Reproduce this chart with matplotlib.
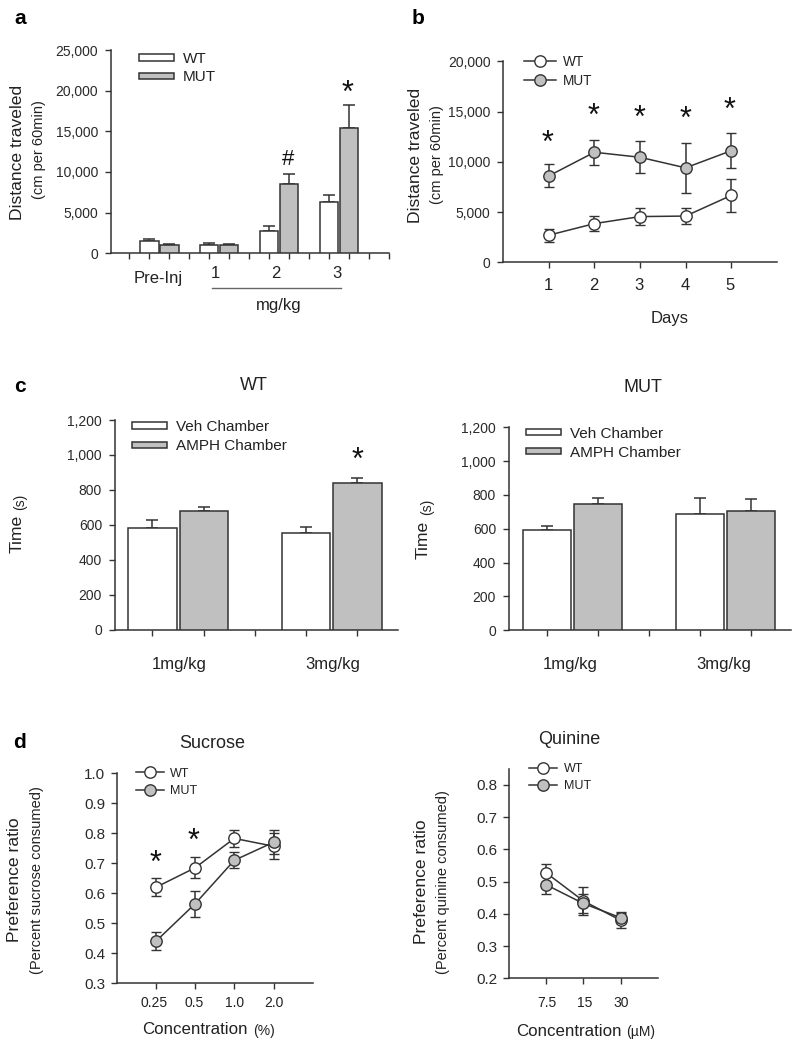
import matplotlib
matplotlib.use("Agg")  # No GUI backend
import matplotlib.pyplot as plt
from matplotlib.lines import Line2D
from matplotlib.patches import Patch

plt.rcParams['font.family'] = ['Liberation Sans', 'DejaVu Sans']

W, H = 800, 1049
DARK = '#333333'
GREY = '#c0c0c0'

# panel a
a_ticks = list(range(14))
a_wt_x = [1, 4, 7, 10]
a_mut_x = [2, 5, 8, 11]
a_wt = [1500, 1000, 2700, 6300]
a_wt_err = [300, 250, 600, 900]
a_mut = [1000, 1050, 8500, 15400]
a_mut_err = [150, 100, 1200, 2800]
a_yticks = [0, 5000, 10000, 15000, 20000, 25000]

# panel b
days = [1, 2, 3, 4, 5]
b_wt = [2700, 3850, 4550, 4600, 6650]
b_wt_err = [640, 730, 830, 780, 1650]
b_mut = [8600, 10950, 10450, 9400, 11100]
b_mut_err = [1150, 1230, 1570, 2500, 1730]
b_yticks = [0, 5000, 10000, 15000, 20000]

# panel c
c_ticks = [1, 2, 3, 4, 5]
c_veh_x = [1, 4]
c_amph_x = [2, 5]
c_yticks = [0, 200, 400, 600, 800, 1000, 1200]
cw_veh = [580, 555]
cw_veh_err = [50, 35]
cw_amph = [680, 840]
cw_amph_err = [25, 30]
cm_veh = [590, 690]
cm_veh_err = [25, 90]
cm_amph = [745, 705]
cm_amph_err = [35, 70]

# panel d
suc_labels = ['0.25', '0.5', '1.0', '2.0']
suc_wt = [0.62, 0.685, 0.783, 0.757]
suc_wt_err = [0.03, 0.035, 0.028, 0.044]
suc_mut = [0.44, 0.565, 0.71, 0.77]
suc_mut_err = [0.03, 0.043, 0.027, 0.04]
suc_yticks = [0.3, 0.4, 0.5, 0.6, 0.7, 0.8, 0.9, 1.0]

qui_labels = ['7.5', '15', '30']
qui_wt = [0.527, 0.44, 0.38]
qui_wt_err = [0.027, 0.044, 0.025]
qui_mut = [0.49, 0.432, 0.388]
qui_mut_err = [0.028, 0.03, 0.015]
qui_yticks = [0.2, 0.3, 0.4, 0.5, 0.6, 0.7, 0.8]

fig = plt.figure(figsize=(W / 100, H / 100), dpi=100)


def make_axes(left, right, top, bottom, xlim, ylim, yticks, yfmt, xticks, size=10, pad=5):
    ax = fig.add_axes([left / W, 1 - bottom / H, (right - left) / W, (bottom - top) / H])
    ax.patch.set_alpha(0)
    ax.set_xlim(xlim)
    ax.set_ylim(ylim)
    ax.set_yticks(yticks)
    ax.set_yticklabels([yfmt.format(v) for v in yticks])
    ax.set_xticks(xticks)
    ax.set_xticklabels([])
    for s in ['top', 'right']:
        ax.spines[s].set_visible(False)
    for s in ['left', 'bottom']:
        ax.spines[s].set_linewidth(1.1)
        ax.spines[s].set_color(DARK)
    ax.tick_params(length=4.3, width=1.0, color=DARK, labelcolor='#2a2a2a', labelsize=size, pad=pad)
    return ax


def txt(x, y, s, size=12.5, rot=0, **kw):
    kw.setdefault('color', '#222222')
    fig.text(x / W, 1 - y / H, s, fontsize=size, rotation=rot, ha='center', va='center', **kw)


def star(x, y, s='*', size=22):
    # the asterisk glyph sits high in the line, so push it down
    fig.text(x / W, 1 - (y + size * 0.17) / H, s, fontsize=size, ha='center', va='center', color='#111111')


def bars(ax, x, vals, errs, width, color, cap=4.6):
    ax.bar(x, vals, width=width, color=color, edgecolor=DARK, linewidth=1.1, zorder=3)
    ax.errorbar(x, vals, yerr=[[0] * len(errs), errs], fmt='none', ecolor=DARK,
                elinewidth=1.1, capsize=cap, capthick=1.1, zorder=2)


def lines(ax, x, vals, errs, color, cap=3.7):
    ax.errorbar(x, vals, yerr=errs, fmt='-o', color=DARK, mfc=color, mec=DARK, mew=1.0, ms=8.2,
                lw=1.1, elinewidth=1.1, capsize=cap, capthick=1.1, clip_on=False)


def legend(ax, handles, labels, x, y, pitch, hlen, tx, fs, hh=0.7, top=0.45):
    fs_px = fs * 100 / 72
    ax.legend(handles, labels, loc='upper left', bbox_to_anchor=(x / W, 1 - (y - top * fs_px) / H),
              bbox_transform=fig.transFigure, frameon=False, fontsize=fs, borderpad=0, borderaxespad=0,
              handlelength=hlen / fs_px, handletextpad=(tx - x - hlen) / fs_px, handleheight=hh,
              labelspacing=(pitch - 0.96 * fs_px) / fs_px, labelcolor='#222222')


def bar_handles():
    return [Patch(fc='white', ec=DARK, lw=1.1), Patch(fc=GREY, ec=DARK, lw=1.1)]


def line_handles():
    return [Line2D([], [], color=DARK, lw=1.1, marker='o', mfc=c, mec=DARK, ms=8.2, mew=1.0) for c in ['white', GREY]]


# a
ax = make_axes(111, 389, 50, 253.3, (-0.92, 13), (0, 25000), a_yticks, '{:,}', a_ticks)
bars(ax, a_wt_x, a_wt, a_wt_err, 0.92, 'white')
bars(ax, a_mut_x, a_mut, a_mut_err, 0.92, GREY)
legend(ax, bar_handles(), ['WT', 'MUT'], 139, 57, 19, 35, 183, 11, hh=0.25, top=0.32)
txt(20, 19, 'a', 15, fontweight='bold', color='black')
txt(18, 152, 'Distance traveled', 12.6, 90)
txt(39, 150, '(cm per 60min)', 10.5, 90)
txt(158, 279, 'Pre-Inj', 12)
txt(215, 273, '1', 12)
txt(276, 273, '2', 12)
txt(337, 273, '3', 12)
fig.add_artist(Line2D([212 / W, 341 / W], [1 - 288 / H] * 2, color='#666666', lw=1.0))
txt(279, 306, 'mg/kg', 12)
star(288, 157, '#', 16)
star(347, 90)

# b
ax = make_axes(503.3, 776.7, 61.3, 262.3, (0, 6), (0, 20000), b_yticks, '{:,}', days)
lines(ax, days, b_wt, b_wt_err, 'white')
lines(ax, days, b_mut, b_mut_err, GREY)
legend(ax, line_handles(), ['WT', 'MUT'], 524.3, 60.7, 18, 31.4, 563, 9.8)
txt(412 + 6, 18, 'b', 15, fontweight='bold', color='black')
txt(415, 155, 'Distance traveled', 12.6, 90)
txt(437, 155, '(cm per 60min)', 10.5, 90)
for d in days:
    txt(548.3 + (d - 1) * 45.5, 286, str(d), 12)
txt(670, 319, 'Days', 12)
for sx, sy in zip([548, 594, 639, 685, 730], [140, 113, 115, 116, 107]):
    star(sx, sy)

# c left
ax = make_axes(115, 398, 420, 629.7, (0.27, 5.79), (0, 1200), c_yticks, '{:,}', c_ticks)
bars(ax, c_veh_x, cw_veh, cw_veh_err, 0.94, 'white')
bars(ax, c_amph_x, cw_amph, cw_amph_err, 0.94, GREY)
legend(ax, bar_handles(), ['Veh Chamber', 'AMPH Chamber'], 132.3, 425, 19.7, 35, 176, 11, hh=0.25, top=0.32)
txt(20, 387, 'c', 15, fontweight='bold', color='black')
txt(254, 385, 'WT', 13)
txt(17, 534, 'Time', 12.6, 90)
txt(20, 502, '(s)', 10, 90)
txt(179, 664, '1mg/kg', 12)
txt(333, 664, '3mg/kg', 12)
star(358, 457)

# c right
ax = make_axes(509, 790.7, 427.3, 630.3, (0.26, 5.77), (0, 1200), c_yticks, '{:,}', c_ticks)
bars(ax, c_veh_x, cm_veh, cm_veh_err, 0.94, 'white')
bars(ax, c_amph_x, cm_amph, cm_amph_err, 0.94, GREY)
legend(ax, bar_handles(), ['Veh Chamber', 'AMPH Chamber'], 526.3, 431.7, 19.7, 35, 570, 11, hh=0.25, top=0.32)
txt(643, 387, 'MUT', 13)
txt(423, 540, 'Time', 12.6, 90)
txt(427, 507, '(s)', 10, 90)
txt(570, 664, '1mg/kg', 12)
txt(724, 664, '3mg/kg', 12)

# d left
ax = make_axes(116.7, 312.7, 773.3, 983.3, (0, 5), (0.3, 1.0), suc_yticks, '{:.1f}', [1, 2, 3, 4], size=11, pad=4)
xs = [1, 2, 3, 4]
lines(ax, xs, suc_wt, suc_wt_err, 'white')
lines(ax, xs, suc_mut, suc_mut_err, GREY)
legend(ax, line_handles(), ['WT', 'MUT'], 136, 773.3, 17.4, 28, 170, 9)
txt(20, 742, 'd', 15, fontweight='bold', color='black')
txt(212, 743, 'Sucrose', 13)
txt(15, 880, 'Preference ratio', 12.6, 90)
txt(37, 880, '(Percent sucrose consumed)', 10.5, 90)
for lab, lx in zip(suc_labels, [154, 194, 235, 274]):
    txt(lx, 1003, lab, 10)
txt(195, 1030, 'Concentration', 12.2)
txt(264, 1031, '(%)', 10)
star(155, 860)
star(194, 838)

# d right
ax = make_axes(509, 657.7, 768.7, 978.3, (0, 4), (0.2, 0.85), qui_yticks, '{:.1f}', [1, 2, 3], size=11, pad=4)
xs = [1, 2, 3]
lines(ax, xs, qui_wt, qui_wt_err, 'white')
lines(ax, xs, qui_mut, qui_mut_err, GREY)
legend(ax, line_handles(), ['WT', 'MUT'], 529.3, 769, 16.7, 28, 563.7, 9)
txt(569, 739, 'Quinine', 13)
txt(422, 882, 'Preference ratio', 12.6, 90)
txt(443, 882, '(Percent quinine consumed)', 10.5, 90)
for lab, lx in zip(qui_labels, [547, 585, 621]):
    txt(lx, 1003, lab, 10)
txt(569, 1031, 'Concentration', 12.2)
txt(641, 1032, '(µM)', 10)

fig.savefig('out.png', dpi=100, facecolor='white')
